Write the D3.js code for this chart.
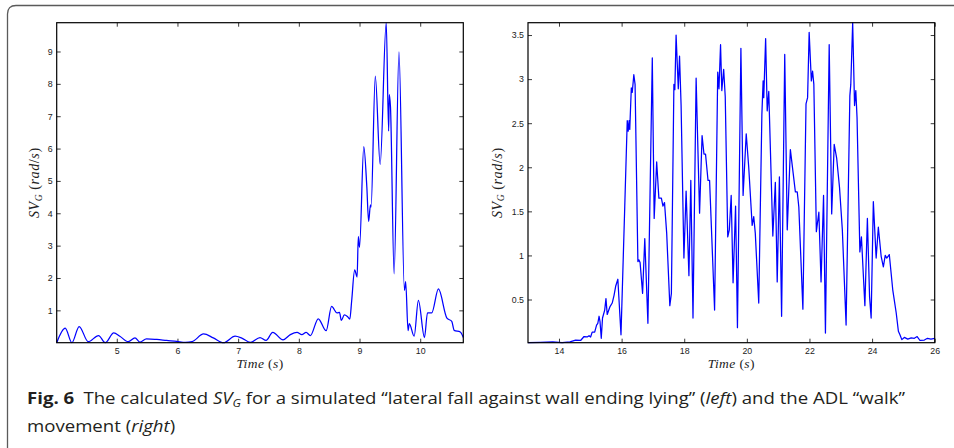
<!DOCTYPE html>
<html>
<head>
<meta charset="utf-8">
<script src="https://cdn.jsdelivr.net/npm/d3@7"></script>
<style>
    body { margin: 0; background: #fff; }
</style>
</head>
<body>
<div id="chart"></div>
<script>
// =========================
// DATA
// =========================
const leftTime = [4.01, 4.15, 4.26, 4.38, 4.53, 4.70, 4.81, 4.95, 5.05, 5.19, 5.30, 5.38, 5.49, 5.66, 5.82, 5.99,
    6.13, 6.24, 6.43, 6.59, 6.76, 6.95, 7.06, 7.20, 7.36, 7.46, 7.57, 7.74, 7.86, 7.97, 8.05, 8.12, 8.19, 8.32,
    8.45, 8.54, 8.63, 8.67, 8.70, 8.75, 8.80, 8.84, 8.87, 8.92, 8.96, 8.98, 9.00, 9.07, 9.12, 9.15, 9.18, 9.19,
    9.26, 9.34, 9.44, 9.48, 9.49, 9.51, 9.57, 9.65, 9.74, 9.76, 9.80, 9.82, 9.90, 9.97, 10.07, 10.12, 10.19,
    10.30, 10.44, 10.52, 10.56, 10.66, 10.71];
const leftValue = [0.0, 0.45, 0.0, 0.5, 0.03, 0.22, 0.0, 0.3, 0.2, 0.03, 0.15, 0.02, 0.12, 0.1, 0.07, 0.04,
    0.01, 0.03, 0.27, 0.15, 0.0, 0.2, 0.14, 0.01, 0.16, 0.07, 0.32, 0.09, 0.25, 0.32, 0.25, 0.32, 0.22, 0.74,
    0.37, 1.12, 0.92, 0.94, 0.69, 0.86, 0.81, 0.73, 1.28, 2.25, 2.03, 3.28, 2.95, 6.06, 4.83, 3.75, 4.26, 4.19,
    8.24, 5.51, 9.89, 6.54, 7.67, 7.29, 2.13, 8.99, 1.62, 1.89, 0.37, 0.59, 0.2, 1.31, 0.16, 0.92, 0.92,
    1.66, 0.76, 0.66, 0.38, 0.33, 0.16];

const rightTime = [13.01, 13.4, 13.8, 14.1, 14.35, 14.53, 14.69, 14.80, 14.90, 14.96, 15.01, 15.06, 15.14, 15.20,
    15.24, 15.28, 15.31, 15.35, 15.39, 15.46, 15.50, 15.54, 15.63, 15.70, 15.76, 15.81, 15.88, 15.98, 16.10,
    16.18, 16.21, 16.24, 16.26, 16.31, 16.34, 16.39, 16.43, 16.52, 16.55, 16.59, 16.67, 16.74, 16.84, 16.98,
    17.04, 17.12, 17.19, 17.27, 17.32, 17.37, 17.44, 17.54, 17.59, 17.67, 17.70, 17.74, 17.81, 17.85, 17.90,
    17.99, 18.06, 18.15, 18.21, 18.28, 18.38, 18.43, 18.49, 18.57, 18.63, 18.68, 18.76, 18.81, 18.97, 19.07,
    19.11, 19.16, 19.20, 19.26, 19.31, 19.39, 19.44, 19.50, 19.56, 19.64, 19.70, 19.81, 19.88, 19.98, 20.06,
    20.17, 20.22, 20.27, 20.38, 20.48, 20.52, 20.54, 20.60, 20.65, 20.70, 20.83, 20.91, 20.97, 21.04, 21.11,
    21.21, 21.29, 21.39, 21.48, 21.55, 21.61, 21.66, 21.79, 21.89, 21.94, 21.99, 22.06, 22.10, 22.14, 22.22,
    22.30, 22.37, 22.45, 22.51, 22.63, 22.71, 22.79, 22.87, 22.96, 23.05, 23.17, 23.29, 23.32, 23.38, 23.44,
    23.48, 23.52, 23.61, 23.66, 23.77, 23.85, 23.92, 23.97, 24.04, 24.13, 24.20, 24.29, 24.36, 24.42, 24.47,
    24.55, 24.66, 24.77, 24.84, 24.89, 24.95, 25.03, 25.14, 25.25, 25.35, 25.44, 25.53, 25.67, 25.77, 25.88, 26.0];
const rightValue = [0.01, 0.015, 0.02, 0.01, 0.02, 0.04, 0.035, 0.08, 0.075, 0.09, 0.075, 0.13, 0.13, 0.21,
    0.23, 0.31, 0.25, 0.06, 0.29, 0.38, 0.51, 0.33, 0.42, 0.46, 0.55, 0.65, 0.73, 0.10, 1.55,
    2.53, 2.41, 2.53, 2.43, 2.90, 2.85, 3.05, 2.94, 0.93, 0.95, 0.92, 0.57, 1.19, 0.23, 3.24,
    1.42, 2.06, 1.65, 1.65, 1.56, 1.60, 1.25, 0.43, 0.57, 2.94, 2.88, 3.50, 2.89, 3.26, 2.70,
    0.97, 1.73, 0.77, 1.85, 0.29, 3.01, 2.30, 1.48, 2.36, 2.15, 2.15, 1.85, 1.85, 0.38, 3.08,
    2.89, 3.39, 2.87, 3.11, 2.80, 1.21, 1.29, 1.68, 0.69, 1.56, 0.18, 3.35, 1.68, 2.38, 2.00,
    1.34, 1.44, 1.25, 0.46, 2.60, 2.98, 2.79, 3.46, 2.64, 2.86, 1.22, 1.83, 0.70, 1.89, 0.31,
    3.28, 1.29, 2.20, 1.93, 1.72, 1.72, 1.55, 0.39, 2.72, 2.79, 3.53, 2.98, 3.09, 2.94, 1.27,
    1.49, 0.70, 1.68, 0.12, 3.39, 1.47, 2.26, 2.10, 1.77, 1.29, 0.21, 2.81, 2.94, 3.64, 2.70,
    2.87, 2.56, 1.04, 1.21, 0.43, 1.42, 0.53, 0.29, 1.61, 0.97, 1.32, 0.99, 0.87, 1.00, 0.97,
    1.01, 0.61, 0.35, 0.14, 0.10, 0.045, 0.07, 0.05, 0.065, 0.06, 0.08, 0.035, 0.04, 0.06, 0.05, 0.06];

const leftXTicks = [5, 6, 7, 8, 9, 10];
const leftYTicks = [1, 2, 3, 4, 5, 6, 7, 8, 9];
const rightXTicks = [14, 16, 18, 20, 22, 24, 26];
const rightYTicks = [0.5, 1, 1.5, 2, 2.5, 3, 3.5];

const W = 954, H = 448;

const svg = d3.select("#chart")
    .append("svg")
    .attr("width", W)
    .attr("height", H)
    .style("display", "block");

// =========================
// FRAME AROUND THE FIGURE
// =========================
svg.append("path")
    .attr("d", `M7.5,${H} L7.5,14 Q7.5,5.5 16,5.5 L${W},5.5`)
    .attr("fill", "none")
    .attr("stroke", "#5a5a5a")
    .attr("stroke-width", 1.3);

// =========================
// ONE PANEL
// =========================
function renderPanel(opts) {
    const { left, top, width, height, time, value, xTicks, yTicks, curve } = opts;
    const g = svg.append("g").attr("transform", `translate(${left},${top})`);

    const x = d3.scaleLinear().domain(d3.extent(time)).range([0, width]);
    const y = d3.scaleLinear().domain(d3.extent(value)).range([height, 0]);

    const tickLen = -4;
    const fmt = d => String(d);

    const bottom = g.append("g")
        .attr("transform", `translate(0,${height})`)
        .call(d3.axisBottom(x).tickValues(xTicks).tickSize(tickLen).tickSizeOuter(0).tickPadding(5.5).tickFormat(fmt));
    const leftAx = g.append("g")
        .call(d3.axisLeft(y).tickValues(yTicks).tickSize(tickLen).tickSizeOuter(0).tickPadding(4).tickFormat(fmt));
    const topAx = g.append("g")
        .call(d3.axisTop(x).tickValues(xTicks).tickSize(tickLen).tickSizeOuter(0).tickFormat(""));
    const rightAx = g.append("g")
        .attr("transform", `translate(${width},0)`)
        .call(d3.axisRight(y).tickValues(yTicks).tickSize(tickLen).tickSizeOuter(0).tickFormat(""));

    [bottom, leftAx, topAx, rightAx].forEach(a => {
        a.select(".domain").remove();
        a.selectAll("line").attr("stroke", "#222").attr("stroke-width", 0.9);
        a.selectAll("text")
            .attr("fill", "#222")
            .style("font-family", "'Liberation Sans', Arial, sans-serif")
            .style("font-size", "8.8px");
    });

    const line = d3.line()
        .x((d, i) => x(time[i]))
        .y(d => y(d))
        .curve(curve);

    g.append("path")
        .datum(value)
        .attr("fill", "none")
        .attr("stroke", "#0000ff")
        .attr("stroke-width", 1.25)
        .attr("stroke-linejoin", "round")
        .attr("d", line);

    g.append("rect")
        .attr("width", width)
        .attr("height", height)
        .attr("fill", "none")
        .attr("stroke", "#000")
        .attr("stroke-width", 1.2);

    // x label: Time (s)
    const serif = "'Liberation Serif', 'Times New Roman', serif";
    const xl = g.append("text")
        .attr("x", width / 2)
        .attr("y", height + 25.5)
        .attr("text-anchor", "middle")
        .style("font-family", serif)
        .style("font-size", "13.5px")
        .style("letter-spacing", "0.4px")
        .attr("fill", "#222");
    xl.append("tspan").style("font-style", "italic").text("Time");
    xl.append("tspan").text(" (");
    xl.append("tspan").style("font-style", "italic").text("s");
    xl.append("tspan").text(")");

    // y label: SV_G (rad/s)
    const yl = g.append("text")
        .attr("transform", `translate(${opts.yLabelX},${height / 2}) rotate(-90)`)
        .attr("text-anchor", "middle")
        .style("font-family", serif)
        .style("font-size", "14px")
        .style("letter-spacing", "0.6px")
        .attr("fill", "#222");
    yl.append("tspan").style("font-style", "italic").text("SV");
    yl.append("tspan").style("font-style", "italic").style("font-size", "9.5px").attr("dy", 2.8).text("G");
    yl.append("tspan").attr("dy", -2.8).text(" (");
    yl.append("tspan").style("font-style", "italic").text("rad");
    yl.append("tspan").text("/");
    yl.append("tspan").style("font-style", "italic").text("s");
    yl.append("tspan").text(")");
}

renderPanel({
    left: 56.7, top: 22.7, width: 406.6, height: 320,
    time: leftTime, value: leftValue,
    xTicks: leftXTicks, yTicks: leftYTicks,
    curve: d3.curveMonotoneX, yLabelX: -18
});

renderPanel({
    left: 528, top: 22.7, width: 406.7, height: 320,
    time: rightTime, value: rightValue,
    xTicks: rightXTicks, yTicks: rightYTicks,
    curve: d3.curveLinear, yLabelX: -26.5
});

// =========================
// CAPTION
// =========================
const capFont = "'Open Sans', 'Noto Sans', sans-serif";
const cap1 = svg.append("text")
    .attr("x", 27).attr("y", 404)
    .style("font-family", capFont)
    .style("font-size", "16.5px")
    .attr("fill", "#231f20");
cap1.append("tspan").style("font-weight", "700").text("Fig. 6");
cap1.append("tspan").text("\u2002The calculated ");
cap1.append("tspan").style("font-style", "italic").text("SV");
cap1.append("tspan").style("font-style", "italic").style("font-size", "11px").attr("dy", 3).text("G");
cap1.append("tspan").attr("dy", -3).text(" for a simulated \u201Clateral fall against wall ending lying\u201D (");
cap1.append("tspan").style("font-style", "italic").text("left");
cap1.append("tspan").text(") and the ADL \u201Cwalk\u201D");

const cap2 = svg.append("text")
    .attr("x", 27).attr("y", 432)
    .style("font-family", capFont)
    .style("font-size", "16.5px")
    .attr("fill", "#231f20");
cap2.append("tspan").text("movement (");
cap2.append("tspan").style("font-style", "italic").text("right");
cap2.append("tspan").text(")");

// squeeze the caption to the narrow face of the original
const natural = cap1.node().getComputedTextLength();
const ratio = 878 / natural;
cap1.attr("textLength", 878).attr("lengthAdjust", "spacingAndGlyphs");
cap2.attr("textLength", cap2.node().getComputedTextLength() * ratio).attr("lengthAdjust", "spacingAndGlyphs");
</script>
</body>
</html>
